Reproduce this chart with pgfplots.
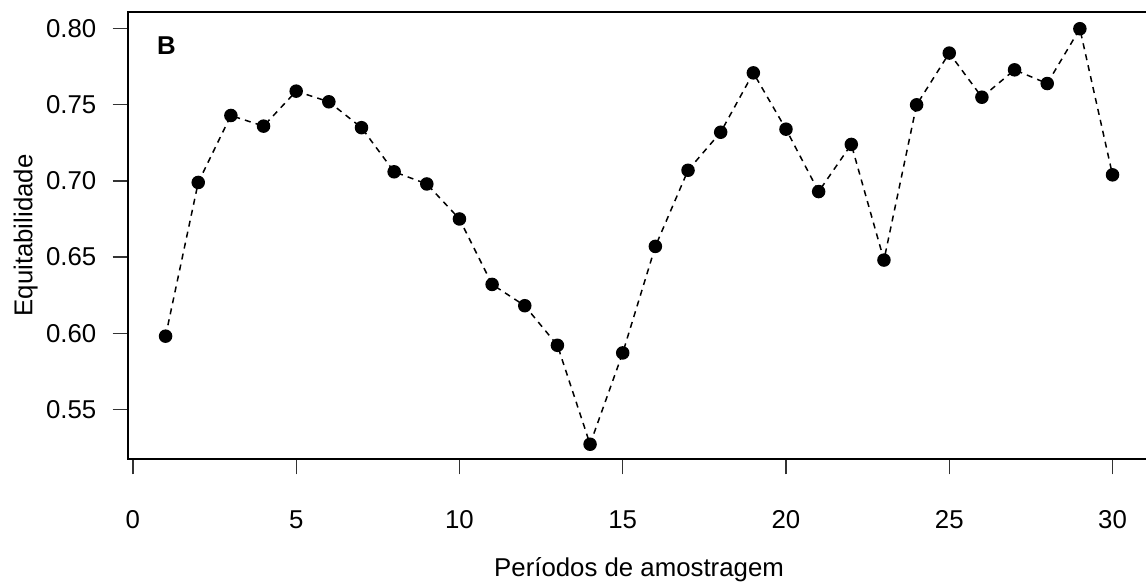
\documentclass[border=0pt]{standalone}
\usepackage{fontspec}
\setmainfont{Liberation Sans}
\usepackage{pgfplots}
\pgfplotsset{compat=1.18}
\begin{document}
\begin{tikzpicture}
\begin{axis}[
  at={(63.85pt,61.85pt)}, anchor=south west,
  scale only axis, width=511.35pt, height=223.8pt,
  xmin=-0.16, xmax=31.16, ymin=0.5171, ymax=0.8112,
  xtick={0,5,...,30}, ytick={0.55,0.60,0.65,0.70,0.75,0.80},
  xtick pos=bottom, ytick pos=left,
  tick align=outside, major tick length=7.5pt,
  tick style={black!80, line width=0.6pt},
  axis line style={line width=0.9pt},
  /pgf/number format/assume math mode=true,
  yticklabel style={/pgf/number format/fixed, /pgf/number format/fixed zerofill, /pgf/number format/precision=2, anchor=east, inner sep=0pt, xshift=-8pt},
  xticklabel style={anchor=base, inner sep=0pt, yshift=-27.35pt},
  ticklabel style={font=\fontsize{12.9}{14}\selectfont},
  scaled y ticks=false,
  xlabel={Períodos de amostragem},
  ylabel={Equitabilidade},
  label style={font=\fontsize{12.9}{14}\selectfont},
  xlabel style={at={(axis description cs:0.5,0)}, anchor=base, yshift=-58.7pt, inner sep=0pt},
  ylabel style={at={(axis description cs:0,0.5)}, anchor=base, rotate=0, xshift=0pt, yshift=47.7pt, inner sep=0pt},
  clip=false,
]
\addplot[black, line width=0.75pt, dash pattern=on 3pt off 2.6pt, mark=*, mark size=3pt, mark options={solid, fill=black}] coordinates {
(1,0.598) (2,0.699) (3,0.743) (4,0.736) (5,0.759) (6,0.752) (7,0.735) (8,0.706) (9,0.698) (10,0.675)
(11,0.632) (12,0.618) (13,0.592) (14,0.527) (15,0.587) (16,0.657) (17,0.707) (18,0.732) (19,0.771) (20,0.734)
(21,0.693) (22,0.724) (23,0.648) (24,0.750) (25,0.784) (26,0.755) (27,0.773) (28,0.764) (29,0.800) (30,0.704)
};
\node[font=\fontsize{12.9}{14}\selectfont\bfseries] at (axis cs:1.03,0.789) {B};
\end{axis}
\pgfresetboundingbox
\path[use as bounding box] (0,0) rectangle (573pt,291.5pt);
\end{tikzpicture}
\end{document}
